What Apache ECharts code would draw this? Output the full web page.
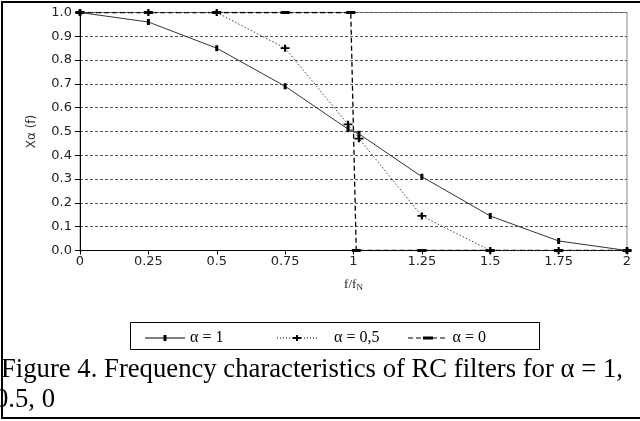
<!DOCTYPE html>
<html>
<head>
<meta charset="utf-8">
<script src="https://cdn.jsdelivr.net/npm/echarts@6/dist/echarts.min.js"></script>
<style>
  html, body { margin: 0; padding: 0; background: #fff; }
  #chart { width: 640px; height: 421px; }
</style>
</head>
<body>
<div id="chart"></div>
<script>
// data
const xA1 = [0, 0.25, 0.5, 0.75, 0.98, 1.02, 1.25, 1.5, 1.75, 2];
const yA1 = [1, 0.96, 0.85, 0.69, 0.51, 0.49, 0.31, 0.145, 0.04, 0];
const xA05 = [0, 0.25, 0.5, 0.75, 0.98, 1.02, 1.25, 1.5, 1.75, 2];
const yA05 = [1, 1, 1, 0.85, 0.53, 0.47, 0.145, 0, 0, 0];
const xA0 = [0, 0.25, 0.5, 0.75, 0.99, 1.01, 1.25, 1.5, 1.75, 2];
const yA0 = [1, 1, 1, 1, 1, 0, 0, 0, 0, 0];
const names = ['α = 1', 'α = 0,5', 'α = 0'];
const caption = ['Figure 4. Frequency characteristics of RC filters for α = 1,', '0.5, 0'];

const pairs = (xs, ys) => xs.map((x, i) => [x, ys[i]]);

// legend icons: line + marker drawn as paths
function dotted(step, len) {
    let p = '';
    for (let x = 0; x < 40; x += step) p += 'M' + x + ',3.5H' + Math.min(x + len, 40) + 'V4.5H' + x + 'Z ';
    return p;
}
const icon1 = 'path://M0,3.5H40V4.5H0Z M18.5,1H21.5V7H18.5Z';
const icon05 = 'path://' + dotted(3, 1) + 'M16,3H24V5H16Z M19,1H21V7H19Z M0,1H0.01V7H0Z';
const icon0 = 'path://' + dotted(8, 5) + 'M15,2.5H25V5.5H15Z M0,1H0.01V7H0Z';

const serif = 'Liberation Serif';
const sans = 'DejaVu Sans';

const chart = echarts.init(document.getElementById('chart'));

function legendAt(left, name, icon, pad) {
    return {
        left: left, top: 325, itemWidth: 40, itemHeight: 6, itemGap: 0,
        data: [{ name: name, icon: icon }],
        selectedMode: false,
        formatter: '{t|{name}}',
        textStyle: {
            rich: { t: { fontFamily: serif, fontSize: 16, color: '#000', padding: [0, 0, 0, pad] } }
        }
    };
}

chart.setOption({
    backgroundColor: '#fff',
    animation: false,
    color: ['#000', '#000', '#000'],
    grid: { left: 80, right: 13, top: 12.5, bottom: 170.5, show: true, borderColor: '#888', borderWidth: 1 },
    xAxis: {
        type: 'value', min: 0, max: 2, interval: 0.25,
        name: 'f/f{s|N}', nameLocation: 'middle', nameGap: 27,
        nameTextStyle: { fontFamily: serif, fontSize: 13, color: '#222', rich: { s: { fontFamily: serif, fontSize: 9, color: '#222', verticalAlign: 'bottom', padding: [6, 0, 0, 0] } } },
        axisLine: { lineStyle: { color: '#000', width: 1 } },
        axisTick: { length: 4, lineStyle: { color: '#000' } },
        axisLabel: { fontFamily: sans, fontSize: 13, color: '#222', margin: 5, formatter: v => String(v) },
        splitLine: { show: false }
    },
    yAxis: {
        type: 'value', min: 0, max: 1, interval: 0.1,
        name: 'Xα (f)', nameLocation: 'middle', nameGap: 42, nameRotate: 90,
        nameTextStyle: { fontFamily: sans, fontSize: 12, color: '#333' },
        axisLine: { show: true, lineStyle: { color: '#000', width: 1 } },
        axisTick: { show: true, length: 5, lineStyle: { color: '#000' } },
        axisLabel: { fontFamily: sans, fontSize: 13, color: '#222', margin: 8, formatter: v => v.toFixed(1) },
        splitLine: { show: true, lineStyle: { color: '#555', type: [3, 2], width: 1 } }
    },
    legend: [
        legendAt(140, names[0], icon1, 0),
        legendAt(272, names[1], icon05, 12),
        legendAt(403, names[2], icon0, 1)
    ],
    series: [
        {
            name: names[2], type: 'line', data: pairs(xA0, yA0), z: 2,
            symbol: 'rect', symbolSize: [9, 3],
            lineStyle: { color: '#000', width: 1.3, type: [5, 3] },
            itemStyle: { color: '#000' }
        },
        {
            name: names[1], type: 'line', data: pairs(xA05, yA05), z: 3,
            symbol: 'path://M0,3H8V5H0Z M3,0H5V8H3Z', symbolSize: [9, 7], symbolKeepAspect: false,
            lineStyle: { color: '#444', width: 1, type: [1.5, 2] },
            itemStyle: { color: '#000' }
        },
        {
            name: names[0], type: 'line', data: pairs(xA1, yA1), z: 4,
            symbol: 'rect', symbolSize: [3, 6],
            lineStyle: { color: '#333', width: 1, type: 'solid' },
            itemStyle: { color: '#000' }
        }
    ],
    graphic: [
        { type: 'rect', shape: { x: 130.5, y: 322.5, width: 409, height: 27 }, style: { fill: 'none', stroke: '#000', lineWidth: 1 }, silent: true },
        { type: 'rect', shape: { x: 2, y: 2, width: 700, height: 416 }, style: { fill: 'none', stroke: '#000', lineWidth: 2 }, silent: true },
        { type: 'text', x: 1, y: 369.5, style: { text: caption[0], font: '26.7px "Liberation Serif"', fill: '#000', verticalAlign: 'middle' } },
        { type: 'text', x: -5, y: 400, style: { text: caption[1], font: '26.7px "Liberation Serif"', fill: '#000', verticalAlign: 'middle' } }
    ]
});
</script>
</body>
</html>
